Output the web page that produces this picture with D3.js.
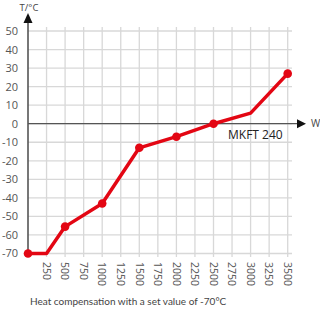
<!DOCTYPE html>
<html>
<head>
<meta charset="utf-8">
<script src="https://cdn.jsdelivr.net/npm/d3@7"></script>
<style>
  body { margin: 0; background: #fff; }
  text { font-family: "Open Sans", "Noto Sans", sans-serif; }
</style>
</head>
<body>
<div id="chart"></div>
<script>
// chart data - heat compensation curve
var power = [0, 250, 500, 1000, 1500, 2000, 2500, 3000, 3500];
var temp = [-70, -70, -55.5, -43, -13, -7, 0, 5.7, 27];
var marked = [true, false, true, true, true, true, true, false, true];
var xTicks = [250, 500, 750, 1000, 1250, 1500, 1750, 2000, 2250, 2500, 2750, 3000, 3250, 3500];
var yTicks = [50, 40, 30, 20, 10, 0, -10, -20, -30, -40, -50, -60, -70];

var svgWidth = 320;
var svgHeight = 310;

var svg = d3.select("#chart")
  .append("svg")
  .attr("width", svgWidth)
  .attr("height", svgHeight);

var x = d3.scaleLinear().domain([0, 3500]).range([28, 287.7]);
var y = d3.scaleLinear().domain([-70, 50]).range([253.5, 31]);

var gridColor = "#d8d8d8";
var red = "#e30613";

// grid lines
svg.append("g").selectAll("line")
  .data(yTicks)
  .enter()
  .append("line")
  .attr("x1", x(0))
  .attr("x2", 292)
  .attr("y1", d => y(d))
  .attr("y2", d => y(d))
  .attr("stroke", gridColor)
  .attr("stroke-width", 1.3);

svg.append("g").selectAll("line")
  .data(xTicks)
  .enter()
  .append("line")
  .attr("x1", d => x(d))
  .attr("x2", d => x(d))
  .attr("y1", 27)
  .attr("y2", 257)
  .attr("stroke", gridColor)
  .attr("stroke-width", 1.3);

// y tick labels
svg.append("g").selectAll("text")
  .data(yTicks)
  .enter()
  .append("text")
  .attr("x", 18)
  .attr("y", d => y(d))
  .attr("dy", "0.36em")
  .attr("text-anchor", "end")
  .attr("font-size", "11px")
  .attr("fill", "#555")
  .text(d => d);

// x tick labels (rotated)
svg.append("g").selectAll("text")
  .data(xTicks)
  .enter()
  .append("text")
  .attr("transform", d => `translate(${x(d)}, 262) rotate(90)`)
  .attr("dy", "0.36em")
  .attr("text-anchor", "start")
  .attr("font-size", "10.5px")
  .attr("fill", "#555")
  .text(d => d);

// axes
svg.append("line")
  .attr("x1", x(0)).attr("x2", 298)
  .attr("y1", y(0)).attr("y2", y(0))
  .attr("stroke", "#555")
  .attr("stroke-width", 1.3);
svg.append("path")
  .attr("d", `M297,${y(0) - 4.5}L306,${y(0)}L297,${y(0) + 4.5}Z`)
  .attr("fill", "#111");

svg.append("line")
  .attr("x1", x(0)).attr("x2", x(0))
  .attr("y1", 22).attr("y2", y(-70))
  .attr("stroke", "#555")
  .attr("stroke-width", 1.6);
svg.append("path")
  .attr("d", `M${x(0) - 4.5},23L${x(0)},13L${x(0) + 4.5},23Z`)
  .attr("fill", "#111");

svg.append("text")
  .attr("x", 29).attr("y", 10.5)
  .attr("text-anchor", "middle")
  .attr("font-size", "9.5px")
  .attr("fill", "#444")
  .text("T/°C");

svg.append("text")
  .attr("x", 311).attr("y", y(0))
  .attr("dy", "0.36em")
  .attr("font-size", "10px")
  .attr("fill", "#444")
  .text("W");

// curve
var line = d3.line()
  .x((d, i) => x(power[i]))
  .y(d => y(d));

svg.append("path")
  .datum(temp)
  .attr("d", line)
  .attr("fill", "none")
  .attr("stroke", red)
  .attr("stroke-width", 3.5)
  .attr("stroke-linejoin", "round");

svg.append("g").selectAll("circle")
  .data(temp.map((t, i) => ({ p: power[i], t: t, m: marked[i] })).filter(d => d.m))
  .enter()
  .append("circle")
  .attr("cx", d => x(d.p))
  .attr("cy", d => y(d.t))
  .attr("r", 4.3)
  .attr("fill", red);

svg.append("text")
  .attr("x", 228).attr("y", 139)
  .attr("font-size", "12px")
  .attr("fill", "#222")
  .text("MKFT 240");

svg.append("text")
  .attr("x", 30).attr("y", 305)
  .attr("font-size", "10px")
  .style("font-family", "Lato, 'Open Sans', sans-serif")
  .attr("fill", "#444")
  .text("Heat compensation with a set value of -70°C");
</script>
</body>
</html>
